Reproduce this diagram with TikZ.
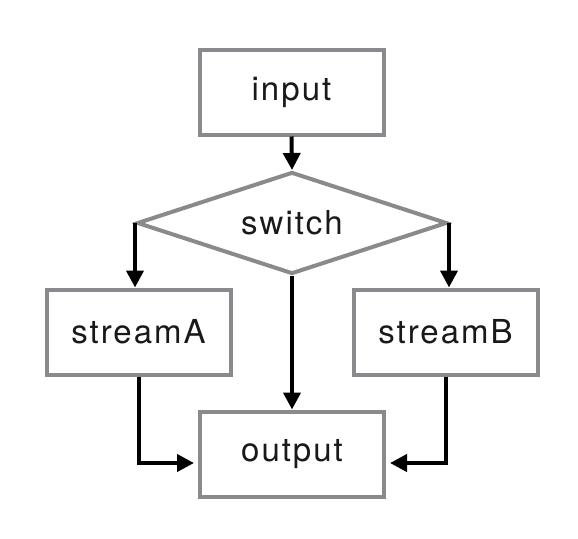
\documentclass[tikz,border=0pt]{standalone}
\usepackage{fontspec}
\setmainfont[LetterSpace=6]{TeX Gyre Heros}
\usepackage{tikz}
\usetikzlibrary{shapes.geometric, arrows.meta, calc}
\definecolor{boxgray}{RGB}{138,138,142}

\tikzset{
  blockbox/.style={draw=boxgray, line width=4pt, rectangle, minimum width=184pt, minimum height=85pt, inner sep=0pt, font=\fontsize{33}{38}\selectfont, text=black!90},
  choicebox/.style={draw=boxgray, line width=4pt, diamond, aspect=3, minimum width=310pt, minimum height=102pt, inner sep=0pt, font=\fontsize{33}{38}\selectfont, text=black!90},
  flow/.style={line width=4pt, -{Triangle[length=17pt,width=17pt]}}
}

\begin{document}
\begin{tikzpicture}[x=1pt, y=-1pt]
		\useasboundingbox (0,0) rectangle (578,538);
		% boxes
		\node[blockbox] (input) at (291.5,92) {input};
		\node[choicebox] (switch) at (292,223) {switch};
		\node[blockbox] (streamA) at (138.5,332) {streamA};
		\node[blockbox] (streamB) at (445.5,332) {streamB};
		\node[blockbox] (output) at (292,454) {output};
		
		% arrows
		\draw[flow] (input.south) -- (switch.north);
		\draw[flow] (switch.west) -- (switch.west |- streamA.north);
		\draw[flow] (switch.east) -- (switch.east |- streamB.north);
		\draw[flow] (switch.south) -- (output.north);
		\draw[flow, shorten >=4pt] (streamA.south) |- ([yshift=-9pt]output.west);
		\draw[flow, shorten >=4pt] (streamB.south) |- ([yshift=-9pt]output.east);
\end{tikzpicture}
\end{document}
